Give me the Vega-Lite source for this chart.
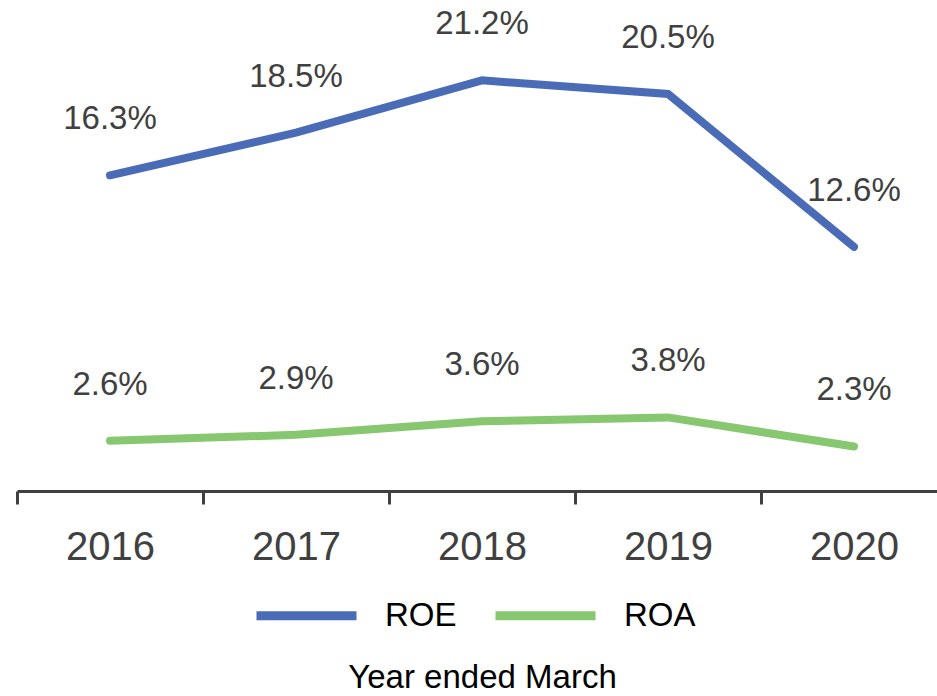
{
  "$schema": "https://vega.github.io/schema/vega-lite/v6.json",
  "autosize": {"type": "none"},
  "width": 920,
  "height": 491,
  "padding": {"left": 17, "top": 0, "right": 0, "bottom": 205},
  "background": "white",
  "config": {"view": {"stroke": null}, "font": "Liberation Sans"},
  "data": {"values": [
    {"year": "2016", "metric": "ROE", "value": 16.3, "label": "16.3%"},
    {"year": "2017", "metric": "ROE", "value": 18.5, "label": "18.5%"},
    {"year": "2018", "metric": "ROE", "value": 21.2, "label": "21.2%"},
    {"year": "2019", "metric": "ROE", "value": 20.5, "label": "20.5%"},
    {"year": "2020", "metric": "ROE", "value": 12.6, "label": "12.6%"},
    {"year": "2016", "metric": "ROA", "value": 2.6, "label": "2.6%"},
    {"year": "2017", "metric": "ROA", "value": 2.9, "label": "2.9%"},
    {"year": "2018", "metric": "ROA", "value": 3.6, "label": "3.6%"},
    {"year": "2019", "metric": "ROA", "value": 3.8, "label": "3.8%"},
    {"year": "2020", "metric": "ROA", "value": 2.3, "label": "2.3%"}
  ]},
  "encoding": {
    "x": {
      "field": "year", "type": "ordinal",
      "scale": {"type": "band", "paddingInner": 0, "paddingOuter": 0, "range": [0, 930]},
      "axis": {
        "title": "Year ended March",
        "titleFont": "Liberation Sans", "titleFontSize": 33, "titleFontWeight": "normal", "titleColor": "#000000",
        "titleBaseline": "alphabetic", "titleY": 196,
        "labelAngle": 0, "labelFontSize": 40, "labelColor": "#404040", "labelPadding": 23,
        "tickBand": "extent", "tickSize": 13, "tickWidth": 3, "tickColor": "#404040",
        "domainWidth": 3, "domainColor": "#404040", "grid": false
      }
    },
    "y": {
      "field": "value", "type": "quantitative",
      "scale": {"domain": [0, 25.35], "nice": false, "zero": true},
      "axis": null
    }
  },
  "layer": [
    {
      "mark": {"type": "line", "strokeWidth": 8, "strokeCap": "round", "strokeJoin": "miter"},
      "encoding": {
        "color": {
          "field": "metric", "type": "nominal",
          "scale": {"domain": ["ROE", "ROA"], "range": ["#4a6cb7", "#86c76f"]},
          "legend": {
            "orient": "none", "direction": "horizontal", "legendX": 235, "legendY": 561,
            "title": null, "symbolType": "stroke", "symbolSize": 10000, "symbolStrokeWidth": 9,
            "labelFontSize": 33, "labelColor": "#000000", "labelOffset": 24, "columnPadding": 20,
            "labelFont": "Liberation Sans"
          }
        }
      }
    },
    {
      "mark": {"type": "text", "dy": -56, "fontSize": 33, "color": "#404040", "baseline": "middle"},
      "encoding": {"text": {"field": "label"}, "detail": {"field": "metric"}}
    }
  ]
}
